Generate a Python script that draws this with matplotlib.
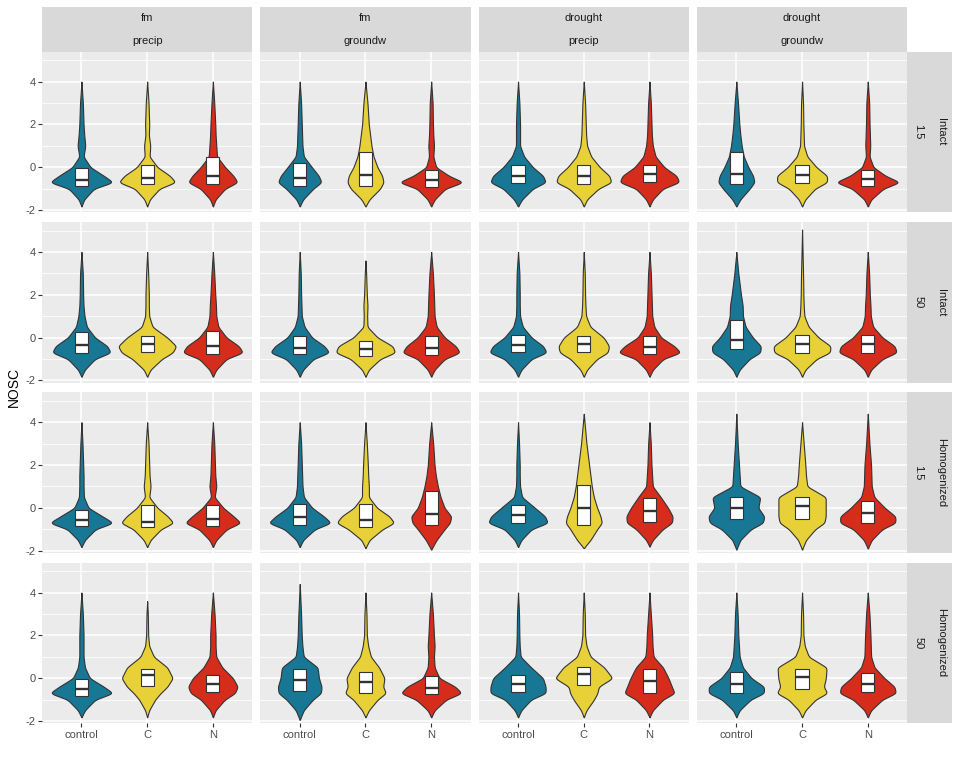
import numpy as np
import matplotlib.pyplot as plt
from matplotlib.patches import Rectangle

plt.rcParams['font.family'] = ['Liberation Sans', 'DejaVu Sans']
plt.rcParams['axes.unicode_minus'] = False

# facets and groups
groups = ["control", "C", "N"]
colors = ["#177794", "#E8D138", "#D62C1C"]
col_top = ["fm", "fm", "drought", "drought"]
col_bottom = ["precip", "groundw", "precip", "groundw"]
row_outer = ["Intact", "Intact", "Homogenized", "Homogenized"]
row_inner = ["1.5", "50", "1.5", "50"]

# NOSC levels where the violin half-widths were read
y_levels = [-1.5, -1.0, -0.7, -0.4, 0.0, 0.5, 1.0, 1.5, 2.0, 3.0]

# ---- Intact / 1.5 ----
intact_15_box = [  # (q1, median, q3) per group, per panel
    [(-0.87, -0.58, -0.05), (-0.80, -0.48, 0.12), (-0.80, -0.41, 0.47)],
    [(-0.89, -0.48, 0.20), (-0.89, -0.36, 0.69), (-0.92, -0.58, -0.14)],
    [(-0.75, -0.39, 0.09), (-0.80, -0.42, 0.09), (-0.67, -0.33, 0.12)],
    [(-0.80, -0.33, 0.70), (-0.75, -0.36, 0.09), (-0.89, -0.56, -0.14)],
]
intact_15_range = [
    [(-1.83, 4.0), (-1.83, 4.0), (-1.83, 4.0)],
    [(-1.83, 4.0), (-1.83, 4.0), (-1.83, 4.0)],
    [(-1.83, 4.0), (-1.83, 4.0), (-1.83, 4.0)],
    [(-1.83, 4.0), (-1.83, 4.0), (-1.83, 4.0)],
]
intact_15_width = [
    [[0.04, 0.18, 0.45, 0.32, 0.13, 0.03, 0.055, 0.04, 0.03, 0.02],
     [0.04, 0.18, 0.41, 0.33, 0.15, 0.035, 0.045, 0.025, 0.03, 0.02],
     [0.04, 0.18, 0.36, 0.30, 0.18, 0.06, 0.05, 0.04, 0.035, 0.02]],
    [[0.05, 0.20, 0.32, 0.28, 0.18, 0.06, 0.04, 0.035, 0.03, 0.02],
     [0.06, 0.22, 0.27, 0.25, 0.18, 0.12, 0.09, 0.07, 0.05, 0.03],
     [0.05, 0.20, 0.45, 0.25, 0.07, 0.03, 0.04, 0.03, 0.025, 0.02]],
    [[0.06, 0.22, 0.41, 0.37, 0.22, 0.09, 0.03, 0.03, 0.03, 0.02],
     [0.05, 0.22, 0.41, 0.38, 0.24, 0.11, 0.05, 0.035, 0.03, 0.02],
     [0.05, 0.20, 0.44, 0.40, 0.22, 0.09, 0.05, 0.035, 0.03, 0.02]],
    [[0.06, 0.20, 0.27, 0.25, 0.18, 0.11, 0.08, 0.06, 0.045, 0.025],
     [0.05, 0.20, 0.38, 0.38, 0.22, 0.08, 0.03, 0.025, 0.02, 0.015],
     [0.05, 0.22, 0.45, 0.25, 0.08, 0.025, 0.035, 0.03, 0.025, 0.02]],
]

# ---- Intact / 50 ----
intact_50_box = [
    [(-0.72, -0.33, 0.28), (-0.69, -0.30, 0.09), (-0.75, -0.38, 0.31)],
    [(-0.77, -0.48, 0.08), (-0.84, -0.52, -0.17), (-0.80, -0.48, 0.09)],
    [(-0.67, -0.33, 0.11), (-0.66, -0.30, 0.09), (-0.75, -0.42, 0.05)],
    [(-0.52, -0.11, 0.81), (-0.70, -0.31, 0.11), (-0.73, -0.31, 0.12)],
]
intact_50_range = [
    [(-1.83, 4.0), (-1.83, 4.0), (-1.83, 4.0)],
    [(-1.83, 4.0), (-1.83, 3.6), (-1.83, 4.0)],
    [(-1.83, 4.0), (-1.83, 4.0), (-1.83, 4.0)],
    [(-1.83, 4.0), (-1.83, 5.05), (-1.83, 4.0)],
]
intact_50_width = [
    [[0.05, 0.20, 0.43, 0.38, 0.20, 0.08, 0.045, 0.03, 0.025, 0.02],
     [0.05, 0.22, 0.38, 0.43, 0.30, 0.08, 0.03, 0.025, 0.025, 0.015],
     [0.05, 0.20, 0.44, 0.38, 0.20, 0.08, 0.05, 0.045, 0.035, 0.02]],
    [[0.05, 0.20, 0.43, 0.36, 0.18, 0.07, 0.03, 0.025, 0.02, 0.015],
     [0.05, 0.22, 0.44, 0.40, 0.18, 0.03, 0.025, 0.03, 0.02, 0.01],
     [0.05, 0.20, 0.42, 0.36, 0.20, 0.08, 0.05, 0.045, 0.04, 0.025]],
    [[0.05, 0.20, 0.42, 0.37, 0.20, 0.07, 0.03, 0.025, 0.025, 0.02],
     [0.05, 0.20, 0.36, 0.38, 0.30, 0.10, 0.035, 0.025, 0.02, 0.015],
     [0.05, 0.20, 0.45, 0.36, 0.17, 0.07, 0.04, 0.035, 0.03, 0.02]],
    [[0.05, 0.20, 0.36, 0.37, 0.25, 0.14, 0.10, 0.095, 0.07, 0.03],
     [0.05, 0.22, 0.42, 0.43, 0.25, 0.10, 0.035, 0.025, 0.02, 0.015],
     [0.05, 0.22, 0.43, 0.40, 0.22, 0.08, 0.045, 0.04, 0.03, 0.02]],
]

# ---- Homogenized / 1.5 ----
homog_15_box = [
    [(-0.85, -0.56, -0.08), (-0.90, -0.64, 0.15), (-0.83, -0.52, 0.15)],
    [(-0.78, -0.44, 0.19), (-0.90, -0.56, 0.19), (-0.78, -0.31, 0.80)],
    [(-0.69, -0.33, 0.12), (-0.78, -0.02, 1.06), (-0.66, -0.16, 0.47)],
    [(-0.53, 0.00, 0.52), (-0.53, 0.08, 0.52), (-0.69, -0.25, 0.34)],
]
homog_15_range = [
    [(-1.83, 4.0), (-1.83, 4.0), (-1.83, 4.0)],
    [(-1.83, 4.0), (-1.88, 4.0), (-1.95, 4.0)],
    [(-1.83, 4.0), (-1.88, 4.4), (-1.81, 4.0)],
    [(-1.95, 4.4), (-1.95, 4.0), (-1.90, 4.4)],
]
homog_15_width = [
    [[0.05, 0.20, 0.45, 0.30, 0.10, 0.035, 0.03, 0.03, 0.025, 0.015],
     [0.05, 0.20, 0.38, 0.30, 0.15, 0.03, 0.05, 0.035, 0.03, 0.02],
     [0.05, 0.20, 0.40, 0.30, 0.15, 0.025, 0.05, 0.035, 0.03, 0.02]],
    [[0.05, 0.22, 0.45, 0.35, 0.18, 0.06, 0.04, 0.035, 0.03, 0.02],
     [0.06, 0.25, 0.42, 0.35, 0.17, 0.05, 0.05, 0.04, 0.035, 0.02],
     [0.08, 0.20, 0.28, 0.30, 0.20, 0.14, 0.10, 0.07, 0.05, 0.03]],
    [[0.05, 0.20, 0.44, 0.40, 0.25, 0.06, 0.03, 0.025, 0.025, 0.015],
     [0.10, 0.20, 0.27, 0.25, 0.20, 0.15, 0.12, 0.10, 0.08, 0.04],
     [0.05, 0.20, 0.34, 0.35, 0.28, 0.17, 0.05, 0.04, 0.03, 0.02]],
    [[0.06, 0.22, 0.40, 0.42, 0.33, 0.36, 0.06, 0.05, 0.04, 0.02],
     [0.06, 0.20, 0.34, 0.36, 0.36, 0.36, 0.08, 0.06, 0.05, 0.025],
     [0.06, 0.22, 0.42, 0.42, 0.26, 0.10, 0.06, 0.055, 0.05, 0.025]],
]

# ---- Homogenized / 50 ----
homog_50_box = [
    [(-0.83, -0.52, -0.03), (-0.36, 0.13, 0.45), (-0.63, -0.27, 0.15)],
    [(-0.60, -0.08, 0.45), (-0.70, -0.16, 0.31), (-0.75, -0.47, 0.11)],
    [(-0.63, -0.25, 0.16), (-0.31, 0.20, 0.50), (-0.69, -0.13, 0.41)],
    [(-0.70, -0.27, 0.27), (-0.50, 0.06, 0.45), (-0.67, -0.27, 0.25)],
]
homog_50_range = [
    [(-1.83, 4.0), (-1.83, 3.6), (-1.83, 4.0)],
    [(-1.95, 4.4), (-1.83, 4.0), (-1.83, 4.0)],
    [(-1.83, 4.0), (-1.83, 4.0), (-1.83, 4.0)],
    [(-1.83, 4.0), (-1.83, 4.0), (-1.83, 4.0)],
]
homog_50_width = [
    [[0.05, 0.20, 0.45, 0.32, 0.12, 0.05, 0.03, 0.03, 0.03, 0.02],
     [0.03, 0.12, 0.20, 0.30, 0.38, 0.30, 0.10, 0.03, 0.015, 0.01],
     [0.04, 0.18, 0.33, 0.37, 0.30, 0.14, 0.05, 0.04, 0.04, 0.025]],
    [[0.06, 0.20, 0.32, 0.33, 0.29, 0.27, 0.06, 0.04, 0.03, 0.02],
     [0.05, 0.18, 0.30, 0.26, 0.28, 0.20, 0.08, 0.04, 0.02, 0.015],
     [0.05, 0.22, 0.44, 0.35, 0.12, 0.05, 0.04, 0.05, 0.04, 0.025]],
    [[0.05, 0.20, 0.42, 0.42, 0.38, 0.20, 0.04, 0.025, 0.02, 0.015],
     [0.04, 0.15, 0.20, 0.22, 0.42, 0.30, 0.10, 0.04, 0.02, 0.015],
     [0.05, 0.20, 0.37, 0.33, 0.28, 0.20, 0.06, 0.045, 0.04, 0.02]],
    [[0.05, 0.22, 0.42, 0.42, 0.23, 0.10, 0.05, 0.04, 0.03, 0.02],
     [0.05, 0.20, 0.37, 0.32, 0.35, 0.36, 0.10, 0.04, 0.02, 0.015],
     [0.05, 0.22, 0.42, 0.40, 0.25, 0.10, 0.05, 0.045, 0.04, 0.025]],
]

row_box = [intact_15_box, intact_50_box, homog_15_box, homog_50_box]
row_range = [intact_15_range, intact_50_range, homog_15_range, homog_50_range]
row_width = [intact_15_width, intact_50_width, homog_15_width, homog_50_width]


def violin_outline(lo, hi, widths):
    # knots, smoothed a little for the drawn outline
    ky = [lo] + [y for y in y_levels if lo < y < hi] + [hi]
    kw = [0.0] + [w for y, w in zip(y_levels, widths) if lo < y < hi] + [0.0]
    ys = np.linspace(lo, hi, 600)
    ws = np.interp(ys, ky, kw)
    step = ys[1] - ys[0]
    k = np.arange(-40, 41) * step
    kern = np.exp(-0.5 * (k / 0.06) ** 2)
    kern /= kern.sum()
    sm = np.convolve(np.pad(ws, 40, mode='constant'), kern, mode='same')[40:-40]
    sm *= max(kw) / sm.max()  # keep the widest point as read
    sm[0] = sm[-1] = 0.0
    return ys, sm


W, H = 960, 768
fig = plt.figure(figsize=(9.6, 7.68), dpi=100)

col_left = [42.0, 260.3, 478.6, 696.9]
pw = 210.3
row_top = [51.7, 222.0, 392.3, 562.6]
ph = 160.5


def px_axes(x, y, w, h):
    return fig.add_axes([x / W, 1 - (y + h) / H, w / W, h / H])


for r in range(4):
    for c in range(4):
        ax = px_axes(col_left[c], row_top[r], pw, ph)
        ax.set_facecolor('#EBEBEB')
        for s in ax.spines.values():
            s.set_visible(False)
        ax.set_xlim(0.4, 3.6)
        ax.set_ylim(-2.1, 5.4)
        ax.set_yticks([-2, 0, 2, 4])
        ax.set_yticks([-1, 1, 3, 5], minor=True)
        ax.set_xticks([1, 2, 3])
        ax.grid(True, which='major', color='white', linewidth=1.1)
        ax.grid(True, which='minor', axis='y', color='white', linewidth=0.55)
        ax.set_axisbelow(True)
        ax.tick_params(which='minor', length=0)
        ax.tick_params(which='major', length=2.7, width=0.8, color='#333333',
                       labelsize=8, labelcolor='#4D4D4D', pad=2)
        if c == 0:
            ax.set_yticklabels(['-2', '0', '2', '4'])
        else:
            ax.tick_params(axis='y', length=0, labelleft=False)
        if r == 3:
            ax.set_xticklabels(groups)
        else:
            ax.tick_params(axis='x', length=0, labelbottom=False)

        for g in range(3):
            lo, hi = row_range[r][c][g]
            ys, ws = violin_outline(lo, hi, row_width[r][c][g])
            x0 = g + 1
            ax.fill_betweenx(ys, x0 - ws, x0 + ws, facecolor=colors[g],
                             edgecolor='#333333', linewidth=0.8, zorder=2)
            q1, med, q3 = row_box[r][c][g]
            ax.add_patch(Rectangle((x0 - 0.1, q1), 0.2, q3 - q1, facecolor='white',
                                   edgecolor='#333333', linewidth=0.8, zorder=3))
            ax.plot([x0 - 0.1, x0 + 0.1], [med, med], color='#333333',
                    linewidth=1.7, solid_capstyle='butt', zorder=4)

# top strips
for c in range(4):
    for lab, y0, h in [(col_top[c], 7.3, 22.0), (col_bottom[c], 29.3, 22.4)]:
        sa = px_axes(col_left[c], y0, pw, h)
        sa.set_facecolor('#D9D9D9')
        sa.set_xticks([])
        sa.set_yticks([])
        for s in sa.spines.values():
            s.set_visible(False)
        sa.text(0.5, 0.5, lab, ha='center', va='center', fontsize=8,
                color='#1A1A1A', transform=sa.transAxes)

# right strips
for r in range(4):
    for lab, x0, w in [(row_inner[r], 907.2, 22.6), (row_outer[r], 929.8, 22.6)]:
        sa = px_axes(x0, row_top[r], w, ph)
        sa.set_facecolor('#D9D9D9')
        sa.set_xticks([])
        sa.set_yticks([])
        for s in sa.spines.values():
            s.set_visible(False)
        sa.text(0.5, 0.5, lab, ha='center', va='center', fontsize=8,
                color='#1A1A1A', rotation=-90, transform=sa.transAxes)

fig.text(14 / W, 1 - 387 / H, 'NOSC', rotation=90, ha='center', va='center',
         fontsize=10, color='black')

fig.savefig('out.png', dpi=100, facecolor='white')
